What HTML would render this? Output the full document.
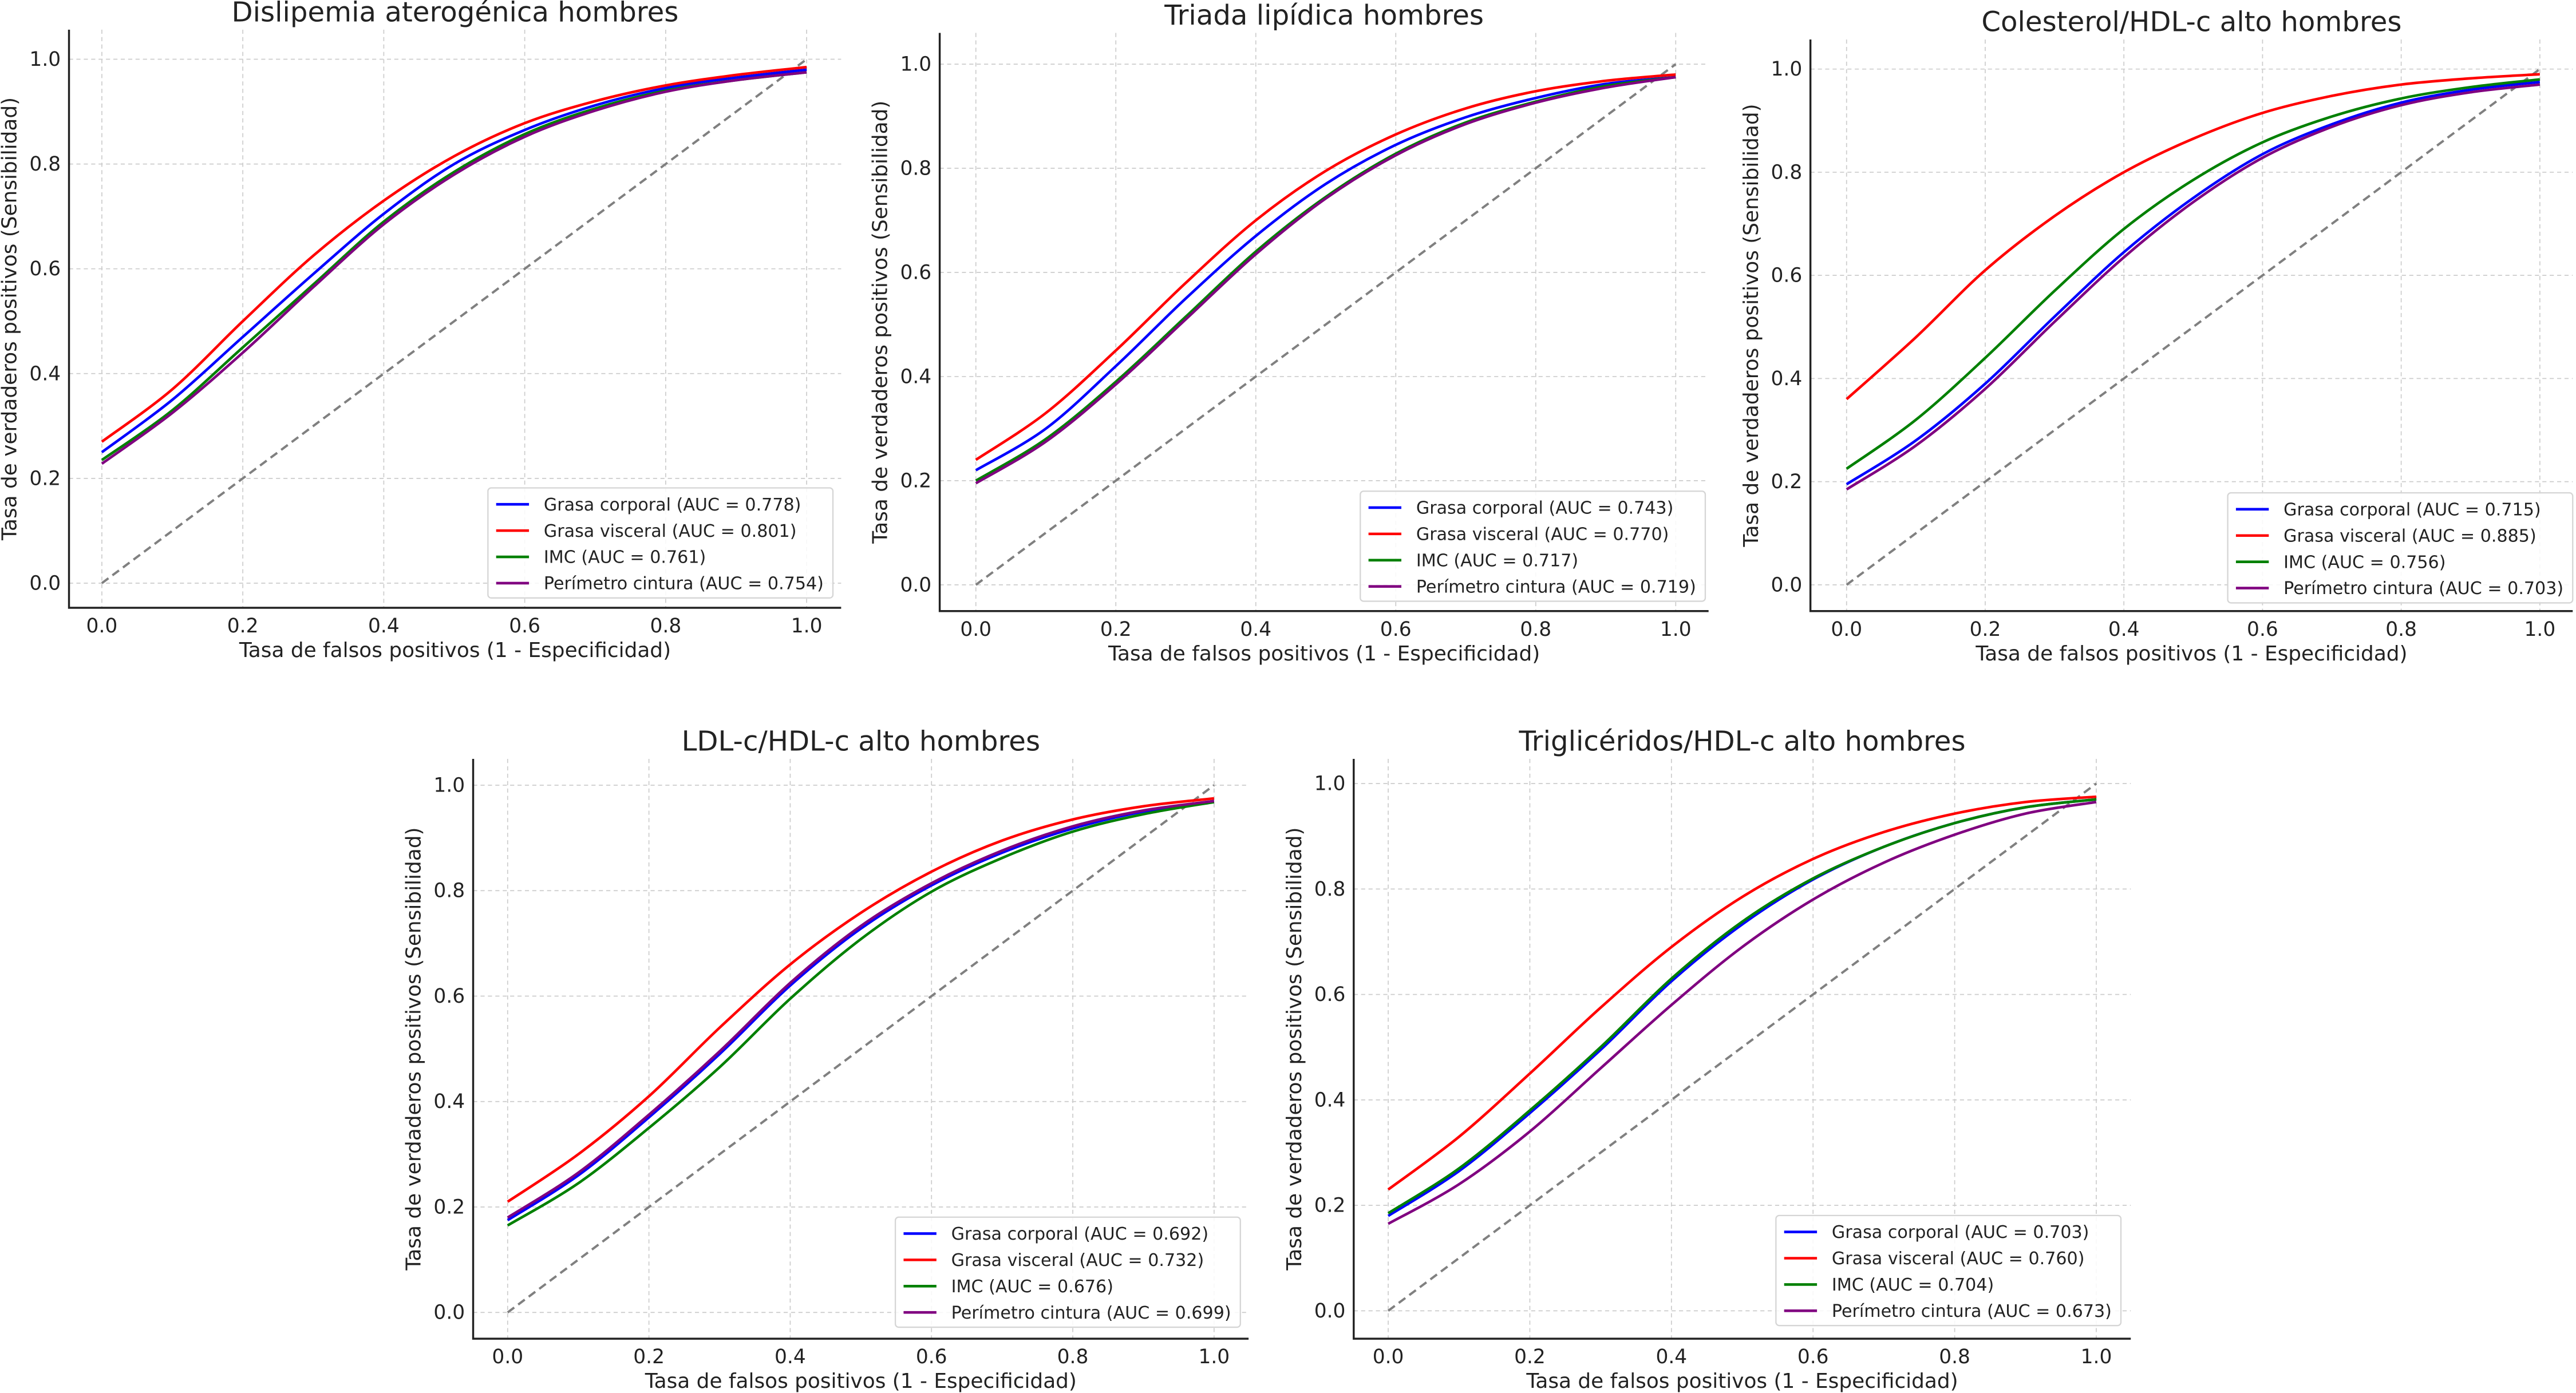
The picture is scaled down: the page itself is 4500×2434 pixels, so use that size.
<!DOCTYPE html>
<html><head><meta charset="utf-8"><style>
html,body{margin:0;padding:0;background:#fff}
svg{display:block}
text{font-family:"DejaVu Sans","Liberation Sans",sans-serif;fill:#222}
</style></head><body>
<svg id="fig" width="4500" height="2434" viewBox="0 0 1568 848" xmlns="http://www.w3.org/2000/svg"></svg>
<script>
const xs = [0,0.1,0.2,0.3,0.4,0.5,0.6,0.7,0.8,0.9,1.0];
const ticks = [0,0.2,0.4,0.6,0.8,1.0];
const tickLabels = ["0.0","0.2","0.4","0.6","0.8","1.0"];
const seriesNames = ["Grasa corporal","Grasa visceral","IMC","Perímetro cintura"];
const titles = ["Dislipemia aterogénica hombres","Triada lipídica hombres","Colesterol/HDL-c alto hombres","LDL-c/HDL-c alto hombres","Triglicéridos/HDL-c alto hombres"];
const aucs = [["0.778","0.801","0.761","0.754"],["0.743","0.770","0.717","0.719"],["0.715","0.885","0.756","0.703"],["0.692","0.732","0.676","0.699"],["0.703","0.760","0.704","0.673"]];
const c1Blue=[0.25,0.35,0.47,0.59,0.705,0.80,0.865,0.912,0.945,0.965,0.98];
const c1Red=[0.27,0.37,0.50,0.625,0.73,0.815,0.878,0.92,0.95,0.97,0.985];
const c1Green=[0.235,0.33,0.45,0.57,0.69,0.785,0.857,0.906,0.94,0.96,0.975];
const c1Purple=[0.228,0.325,0.44,0.565,0.685,0.78,0.852,0.902,0.938,0.96,0.975];
const c2Blue=[0.22,0.30,0.42,0.55,0.67,0.77,0.845,0.898,0.935,0.962,0.975];
const c2Red=[0.24,0.33,0.45,0.58,0.70,0.795,0.865,0.915,0.948,0.968,0.98];
const c2Green=[0.20,0.28,0.39,0.515,0.64,0.745,0.828,0.888,0.928,0.958,0.975];
const c2Purple=[0.195,0.275,0.385,0.51,0.635,0.742,0.825,0.885,0.926,0.955,0.975];
const c3Blue=[0.195,0.28,0.39,0.52,0.645,0.75,0.835,0.893,0.935,0.96,0.975];
const c3Red=[0.36,0.48,0.61,0.715,0.80,0.865,0.915,0.948,0.97,0.982,0.99];
const c3Green=[0.225,0.32,0.44,0.57,0.69,0.785,0.858,0.908,0.943,0.965,0.98];
const c3Purple=[0.185,0.27,0.38,0.51,0.635,0.742,0.828,0.888,0.93,0.955,0.97];
const c4Blue=[0.175,0.26,0.37,0.49,0.62,0.728,0.81,0.872,0.918,0.95,0.97];
const c4Red=[0.21,0.30,0.41,0.54,0.66,0.758,0.836,0.895,0.935,0.96,0.975];
const c4Green=[0.165,0.245,0.35,0.465,0.595,0.708,0.798,0.862,0.912,0.945,0.968];
const c4Purple=[0.18,0.265,0.375,0.495,0.625,0.733,0.814,0.876,0.922,0.952,0.97];
const c5Blue=[0.18,0.265,0.375,0.495,0.625,0.733,0.818,0.88,0.925,0.955,0.97];
const c5Red=[0.23,0.33,0.45,0.575,0.69,0.785,0.857,0.908,0.943,0.965,0.975];
const c5Green=[0.185,0.27,0.38,0.50,0.63,0.738,0.82,0.88,0.925,0.955,0.97];
const c5Purple=[0.165,0.24,0.34,0.46,0.58,0.69,0.78,0.85,0.903,0.943,0.965];
const allSeries=[[c1Blue,c1Red,c1Green,c1Purple],[c2Blue,c2Red,c2Green,c2Purple],[c3Blue,c3Red,c3Green,c3Purple],[c4Blue,c4Red,c4Green,c4Purple],[c5Blue,c5Red,c5Green,c5Purple]];
const colors=["#0000ff","#ff0000","#008000","#800080"];
const layout=[
 {x0:62,x1:491,y0:355,y1:36,sl:42,sr:512,st:18,sb:370,lx:297,ly:297},
 {x0:594,x1:1020,y0:356,y1:39,sl:572,sr:1040,st:20,sb:372,lx:828,ly:299},
 {x0:1124,x1:1546,y0:356,y1:42,sl:1102,sr:1566,st:24,sb:372,lx:1356,ly:300},
 {x0:309,x1:739,y0:799,y1:478,sl:288,sr:760,st:462,sb:815,lx:545,ly:741},
 {x0:845,x1:1276,y0:798,y1:477,sl:824,sr:1297,st:462,sb:815,lx:1081,ly:740}];
const NS="http://www.w3.org/2000/svg";
const fig=document.getElementById('fig');
function mk(tag,attrs,parent){const e=document.createElementNS(NS,tag);for(const k in attrs)e.setAttribute(k,attrs[k]);parent.appendChild(e);return e;}
function smooth(pts){let d="M"+pts[0][0]+","+pts[0][1];for(let i=0;i<pts.length-1;i++){const p0=pts[Math.max(0,i-1)],p1=pts[i],p2=pts[i+1],p3=pts[Math.min(pts.length-1,i+2)];
 d+=" C"+(p1[0]+(p2[0]-p0[0])/6)+","+(p1[1]+(p2[1]-p0[1])/6)+" "+(p2[0]-(p3[0]-p1[0])/6)+","+(p2[1]-(p3[1]-p1[1])/6)+" "+p2[0]+","+p2[1];}return d;}
layout.forEach((L,ci)=>{
 const g=mk('g',{},fig);
 
 
 const sx=v=>L.x0+(L.x1-L.x0)*v, sy=v=>L.y0-(L.y0-L.y1)*v;
 ticks.forEach((t,i)=>{
  const gx=mk('line',{x1:sx(t),x2:sx(t),y1:L.st,y2:L.sb,stroke:"#cccccc","stroke-width":0.6,"stroke-dasharray":"2.5,2"},g);
  
  
  const gy=mk('line',{x1:L.sl,x2:L.sr,y1:sy(t),y2:sy(t),stroke:"#cccccc","stroke-width":0.6,"stroke-dasharray":"2.5,2"},g);
  
  
  const tx=mk('text',{x:sx(t),y:L.sb+15,"font-size":12,"text-anchor":"middle"},g);tx.textContent=tickLabels[i];
  
  
  const ty=mk('text',{x:L.sl-5,y:sy(t)+4,"font-size":12,"text-anchor":"end"},g);ty.textContent=tickLabels[i];
  
  
 });
 const sp=mk('path',{d:`M${L.sl},${L.st} V${L.sb} H${L.sr}`,fill:"none",stroke:"#222","stroke-width":1.2},g);
 
 
 const dg=mk('line',{x1:sx(0),y1:sy(0),x2:sx(1),y2:sy(1),stroke:"#808080","stroke-width":1.4,"stroke-dasharray":"5,3"},g);
 
 
 allSeries[ci].forEach((ser,si)=>{
  const pts=xs.map((x,k)=>[sx(x),sy(ser[k])]);
  const p=mk('path',{d:smooth(pts),fill:"none",stroke:colors[si],"stroke-width":1.6},g);
  
  
 });
 const tt=mk('text',{x:(L.sl+L.sr)/2,y:L.st-5,"font-size":16.8,"text-anchor":"middle"},g);tt.textContent=titles[ci];
 
 
 const xl=mk('text',{x:(L.sl+L.sr)/2,y:L.sb+30,"font-size":12.5,"text-anchor":"middle"},g);xl.textContent="Tasa de falsos positivos (1 - Especificidad)";
 
 
 const cy=(L.st+L.sb)/2, lxp=L.sl-32;
 const yl=mk('text',{x:lxp,y:cy,"font-size":12.5,"text-anchor":"middle",transform:`rotate(-90 ${lxp} ${cy})`},g);yl.textContent="Tasa de verdaderos positivos (Sensibilidad)";
 
 
 const lg=mk('g',{},g);
 
 
 mk('rect',{x:L.lx,y:L.ly,width:210,height:67,rx:2,fill:"#fff","fill-opacity":0.85,stroke:"#d5d5d5","stroke-width":0.8},lg);
 seriesNames.forEach((n,si)=>{
  const yy=L.ly+10+si*16;
  const e=mk('g',{},lg);
  
  
  mk('line',{x1:L.lx+5,x2:L.lx+25,y1:yy,y2:yy,stroke:colors[si],"stroke-width":1.6},e);
  const t=mk('text',{x:L.lx+34,y:yy+3.7,"font-size":10.5},e);t.textContent=`${n} (AUC = ${aucs[ci][si]})`;
 });
});
</script>
</body></html>
